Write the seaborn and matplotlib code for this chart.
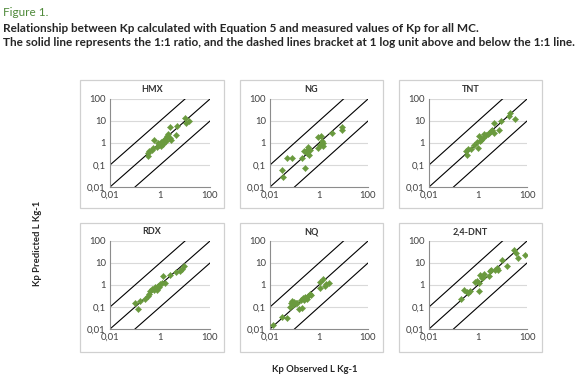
import matplotlib
matplotlib.use("Agg")
import matplotlib.pyplot as plt
from matplotlib.patches import Rectangle
from matplotlib.ticker import FixedLocator, FixedFormatter, NullLocator
import pandas as pd
import seaborn as sns

# measured (observed) vs calculated Kp
HMX_OBS = [0.32, 0.34, 0.38, 0.47, 0.60, 0.74, 0.95, 1.1, 1.3, 1.4, 1.6, 1.9, 2.1, 2.4, 2.8,
           2.6, 4.5, 4.8, 9.8, 11.4, 14, 1.8, 1.1, 0.81, 0.52]
HMX_PRED = [0.25, 0.35, 0.45, 0.50, 1.3, 0.66, 0.83, 1.07, 0.93, 1.3, 1.6, 2.0, 2.5, 1.7, 1.4,
            5.4, 2.4, 6.2, 13.7, 8.1, 9.6, 1.2, 0.7, 1.0, 0.6]

NG_OBS = [0.030, 0.035, 0.051, 0.076, 0.21, 0.24, 0.26, 0.31, 0.33, 0.36, 0.40, 0.43,
          0.93, 0.89, 1.2, 1.3, 1.4, 1.5, 1.1, 3.5, 8.3, 9.1]
NG_PRED = [0.061, 0.028, 0.21, 0.21, 0.21, 0.42, 0.071, 0.35, 0.47, 0.66, 0.30, 0.50,
           0.59, 1.9, 2.1, 1.2, 0.76, 1.0, 0.85, 3.0, 5.4, 3.8]

TNT_OBS = [0.36, 0.32, 0.40, 0.51, 0.66, 0.98, 0.89, 1.1, 1.2, 1.3, 1.8, 2.1, 2.5, 2.9,
           3.4, 3.9, 4.7, 4.3, 7.1, 8.9, 18, 21, 31, 1.6]
TNT_PRED = [0.28, 0.45, 0.53, 0.56, 0.79, 0.58, 1.1, 2.1, 1.2, 1.4, 2.5, 2.2, 2.7, 3.0,
            3.6, 3.8, 2.9, 8.3, 3.9, 10, 16.6, 23, 12.6, 1.7]

RDX_OBS = [0.10, 0.13, 0.16, 0.26, 0.38, 0.41, 0.48, 0.55, 0.63, 0.74, 0.87, 0.95, 1.0,
           1.15, 1.3, 1.6, 2.4, 4.2, 6.2, 7.9, 9.0, 0.33, 0.74]
RDX_PRED = [0.16, 0.083, 0.19, 0.22, 0.38, 0.55, 0.66, 0.62, 0.78, 0.83, 0.93, 0.78, 1.1,
            1.2, 2.5, 1.2, 2.9, 3.8, 4.2, 5.5, 7.0, 0.32, 0.6]

NQ_OBS = [0.013, 0.030, 0.048, 0.065, 0.069, 0.081, 0.095, 0.11, 0.13, 0.085, 0.15, 0.21,
          0.19, 0.23, 0.25, 0.26, 0.31, 0.36, 0.43, 0.49, 1.07, 1.4, 1.1, 1.7, 2.0, 2.5]
NQ_PRED = [0.016, 0.035, 0.032, 0.105, 0.16, 0.19, 0.17, 0.16, 0.15, 0.12, 0.079, 0.089,
           0.21, 0.25, 0.21, 0.28, 0.23, 0.32, 0.39, 0.35, 1.4, 1.8, 0.71, 0.93, 1.07, 1.2]

DNT_OBS = [0.21, 0.26, 0.34, 0.40, 0.49, 0.79, 0.92, 1.07, 1.15, 1.26, 1.4, 1.7, 1.6, 2.8,
           3.0, 3.5, 4.8, 6.0, 6.6, 9.6, 15, 29, 34, 43, 81]
DNT_PRED = [0.22, 0.57, 0.49, 0.44, 0.54, 1.35, 1.45, 1.2, 0.54, 3.0, 2.1, 3.2, 2.3, 2.7,
            4.2, 4.6, 4.9, 5.8, 4.9, 14, 7.6, 41, 29, 17, 23]

PANELS = [
    ("HMX", HMX_OBS, HMX_PRED), ("NG", NG_OBS, NG_PRED), ("TNT", TNT_OBS, TNT_PRED),
    ("RDX", RDX_OBS, RDX_PRED), ("NQ", NQ_OBS, NQ_PRED), ("2,4-DNT", DNT_OBS, DNT_PRED),
]

LIMS = [0.01, 100]
RATIOS = [0.1, 1, 10]          # 1:1 line and +/- 1 log unit
Y_TICKS = [0.01, 0.1, 1, 10, 100]
Y_LABELS = ["0,01", "0,1", "1", "10", "100"]
X_TICKS = [0.01, 1, 100]
X_LABELS = ["0,01", "1", "100"]

TITLE_1 = "Figure 1."
TITLE_2 = "Relationship between Kp calculated with Equation 5 and measured values of Kp for all MC."
TITLE_3 = ("The solid line represents the 1:1 ratio, and the dashed lines bracket at 1 log unit "
           "above and below the 1:1 line.")

sns.set_style("white")
plt.rcParams["font.family"] = ["Lato", "DejaVu Sans"]

W, H = 580, 381
fig = plt.figure(figsize=(W / 100, H / 100), dpi=100)

# pixel layout (left, right) per column, (top, bottom) per row
box_cols = [(80, 224), (240, 383), (399, 542)]
plot_cols = [(110, 210), (270, 368), (429, 527)]
box_rows = [(80, 208), (223, 352)]
plot_rows = [(99, 187), (241, 329)]

green = "#6a9a3e"
for i, (name, obs, pred) in enumerate(PANELS):
    r, c = divmod(i, 3)
    bx0, bx1 = box_cols[c]
    by0, by1 = box_rows[r]
    fig.patches.append(Rectangle((bx0 / W, 1 - by1 / H), (bx1 - bx0) / W, (by1 - by0) / H,
                                 transform=fig.transFigure, fill=False,
                                 edgecolor="#d0d0d0", linewidth=0.9))
    fig.text((bx0 + bx1) / 2 / W, 1 - (by0 + 9) / H, name, ha="center", va="center",
             fontsize=6.5, fontweight="bold", color="#333333")

    px0, px1 = plot_cols[c]
    py0, py1 = plot_rows[r]
    ax = fig.add_axes([px0 / W, 1 - py1 / H, (px1 - px0) / W, (py1 - py0) / H])
    ax.set_xscale("log")
    ax.set_yscale("log")
    ax.set_xlim(LIMS)
    ax.set_ylim(LIMS)

    for k in RATIOS:
        line = pd.DataFrame({"x": LIMS, "y": [v * k for v in LIMS]})
        sns.lineplot(data=line, x="x", y="y", color="black", linewidth=0.8, ax=ax)

    df = pd.DataFrame({"obs": obs, "pred": pred})
    sns.scatterplot(data=df, x="obs", y="pred", marker="D", s=10, color=green,
                    edgecolor=green, linewidth=0.3, ax=ax, zorder=3)

    for yv in Y_TICKS[1:]:
        ax.axhline(yv, color="#d9d9d9", linewidth=0.8, zorder=0)

    ax.yaxis.set_major_locator(FixedLocator(Y_TICKS))
    ax.yaxis.set_major_formatter(FixedFormatter(Y_LABELS))
    ax.xaxis.set_major_locator(FixedLocator(X_TICKS))
    ax.xaxis.set_major_formatter(FixedFormatter(X_LABELS))
    ax.xaxis.set_minor_locator(NullLocator())
    ax.yaxis.set_minor_locator(NullLocator())
    ax.tick_params(length=0, labelsize=6.8, colors="#404040", pad=3)
    ax.set_xlabel("")
    ax.set_ylabel("")
    for side in ("top", "right"):
        ax.spines[side].set_visible(False)
    for side in ("left", "bottom"):
        ax.spines[side].set_color("#8c8c8c")
        ax.spines[side].set_linewidth(0.8)
    ax.set_facecolor("none")

fig.text(3 / W, 1 - 12 / H, TITLE_1, fontsize=8.5, color="#4f8a3a", va="center", ha="left")
fig.text(3 / W, 1 - 28 / H, TITLE_2, fontsize=8.5, fontweight="bold", va="center", ha="left")
fig.text(3 / W, 1 - 43 / H, TITLE_3, fontsize=8.5, fontweight="bold", va="center", ha="left")

fig.text(37 / W, 1 - 243 / H, "Kp Predicted L Kg-1", rotation=90, fontsize=6.8,
         fontweight="bold", ha="center", va="center")
fig.text(315 / W, 1 - 370 / H, "Kp Observed L Kg-1", fontsize=6.8,
         fontweight="bold", ha="center", va="center")

fig.savefig("out.png", dpi=100)
